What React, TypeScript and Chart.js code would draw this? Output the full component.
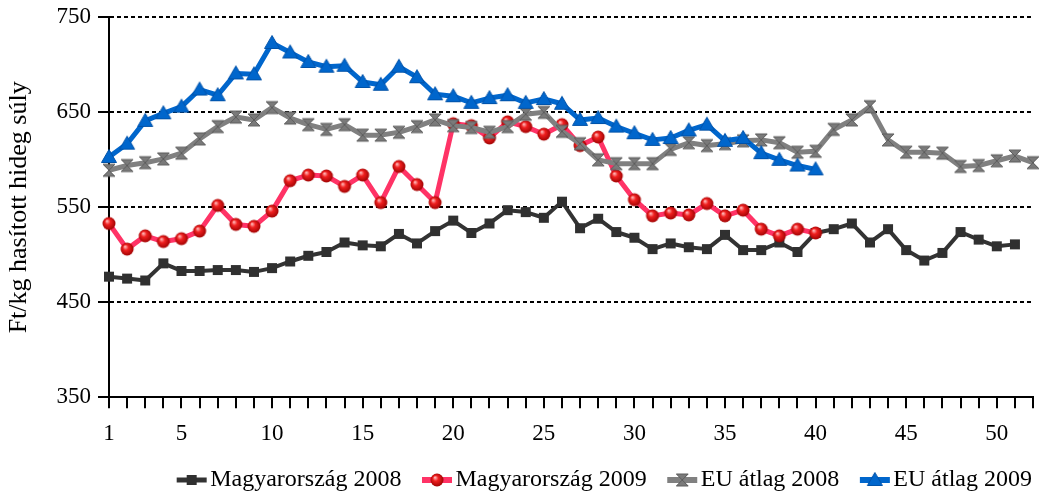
import React, { useEffect, useRef } from 'react';
import { Chart, registerables } from 'chart.js';

Chart.register(...registerables);

const weeks = [
  '1', '2', '3', '4', '5', '6', '7', '8', '9', '10',
  '11', '12', '13', '14', '15', '16', '17', '18', '19', '20',
  '21', '22', '23', '24', '25', '26', '27', '28', '29', '30',
  '31', '32', '33', '34', '35', '36', '37', '38', '39', '40',
  '41', '42', '43', '44', '45', '46', '47', '48', '49', '50',
  '51', '52',
];

const shownWeekLabels = ['1', '5', '10', '15', '20', '25', '30', '35', '40', '45', '50'];

const hu2008 = [
  477, 475, 473, 491, 483, 483, 484, 484, 482, 486,
  493, 499, 503, 513, 510, 509, 522, 512, 525, 536,
  523, 533, 547, 545, 539, 556, 528, 538, 524, 518,
  506, 512, 508, 506, 521, 505, 505, 513, 503, 523,
  527, 533, 513, 527, 505, 494, 502, 524, 516, 509,
  511,
];

const hu2009 = [
  533, 506, 520, 514, 517, 525, 552, 532, 530, 546,
  578, 584, 583, 572, 584, 555, 593, 574, 555, 638,
  636, 623, 640, 635, 627, 637, 615, 624, 583, 558,
  541, 544, 542, 554, 541, 547, 527, 520, 527, 523,
];

const eu2008 = [
  589, 594, 597, 601, 607, 622, 635, 645, 642, 655,
  644, 637, 632, 637, 626, 626, 629, 635, 642, 636,
  634, 629, 635, 648, 650, 630, 617, 600, 596, 596,
  596, 611, 618, 615, 617, 620, 621, 618, 608, 609,
  632, 642, 656, 621, 608, 608, 607, 593, 594, 599,
  604, 597,
];

const eu2009 = [
  603, 617, 641, 649, 656, 674, 668, 691, 690, 723,
  713, 703, 698, 699, 682, 679, 698, 687, 669, 667,
  660, 665, 668, 660, 664, 659, 642, 644, 635, 628,
  621, 623, 631, 637, 620, 623, 607, 600, 594, 590,
];

const seriesNames = ['Magyarország 2008', 'Magyarország 2009', 'EU átlag 2008', 'EU átlag 2009'];
const yTicks = [350, 450, 550, 650, 750];
const yTitle = 'Ft/kg hasított hideg súly';

const BLACK = '#333333';
const RED = '#ff3366';
const GRAY = '#808080';
const BLUE = '#0066cc';
const FONT = "'Liberation Serif', 'Times New Roman', serif";

type Kind = 'square' | 'sphere' | 'hourglass' | 'triangle';

function drawMarker(ctx: CanvasRenderingContext2D, kind: Kind, cx: number, cy: number) {
  if (kind === 'square') {
    ctx.fillStyle = '#303030';
    ctx.fillRect(cx - 5, cy - 5, 10, 10);
  } else if (kind === 'sphere') {
    const g = ctx.createRadialGradient(cx - 2, cy - 2.5, 0.5, cx, cy, 7);
    g.addColorStop(0, '#ffb0b0');
    g.addColorStop(0.35, '#f02020');
    g.addColorStop(1, '#9a0000');
    ctx.fillStyle = g;
    ctx.beginPath();
    ctx.arc(cx, cy, 6.5, 0, Math.PI * 2);
    ctx.fill();
  } else if (kind === 'hourglass') {
    ctx.fillStyle = '#7a7a7a';
    ctx.strokeStyle = '#5c5c5c';
    ctx.lineWidth = 1;
    ctx.beginPath();
    ctx.moveTo(cx - 6, cy - 6);
    ctx.lineTo(cx + 6, cy - 6);
    ctx.lineTo(cx, cy);
    ctx.lineTo(cx + 6, cy + 6);
    ctx.lineTo(cx - 6, cy + 6);
    ctx.lineTo(cx, cy);
    ctx.closePath();
    ctx.fill();
    ctx.stroke();
  } else {
    ctx.fillStyle = '#0066cc';
    ctx.strokeStyle = '#0052a8';
    ctx.lineWidth = 1;
    ctx.beginPath();
    ctx.moveTo(cx, cy - 7.5);
    ctx.lineTo(cx + 7.5, cy + 5.5);
    ctx.lineTo(cx - 7.5, cy + 5.5);
    ctx.closePath();
    ctx.fill();
    ctx.stroke();
  }
}

function makeMarker(kind: Kind): HTMLCanvasElement {
  const c = document.createElement('canvas');
  c.width = 18;
  c.height = 18;
  const ctx = c.getContext('2d')!;
  drawMarker(ctx, kind, 9, 9);
  return c;
}

// Legend icon: a short line with the marker in its middle, placed in the
// right part of a wider transparent canvas so it sits close to its text.
function makeLegendIcon(kind: Kind, color: string, lw: number): HTMLCanvasElement {
  const c = document.createElement('canvas');
  c.width = 52;
  c.height = 18;
  const ctx = c.getContext('2d')!;
  ctx.strokeStyle = color;
  ctx.lineWidth = lw;
  ctx.beginPath();
  ctx.moveTo(21, 9);
  ctx.lineTo(51, 9);
  ctx.stroke();
  drawMarker(ctx, kind, 36, 9);
  return c;
}

export default function App() {
  const ref = useRef<HTMLCanvasElement>(null);

  useEffect(() => {
    if (!ref.current) return;
    const kinds: Kind[] = ['square', 'sphere', 'hourglass', 'triangle'];
    const colors = [BLACK, RED, GRAY, BLUE];
    const widths = [4, 5, 5, 5];
    const values = [hu2008, hu2009, eu2008, eu2009];
    const orders = [4, 3, 2, 1];
    const markers = kinds.map((k) => makeMarker(k));
    const icons = kinds.map((k, i) => makeLegendIcon(k, colors[i], widths[i] + 1));

    const datasets = values.map((v, i) => ({
      label: seriesNames[i],
      data: v,
      borderColor: colors[i],
      backgroundColor: colors[i],
      borderWidth: widths[i],
      pointStyle: markers[i] as any,
      pointRadius: 5,
      pointHoverRadius: 5,
      tension: 0,
      clip: false as any,
      order: orders[i],
      borderJoinStyle: 'round' as const,
    }));

    const tickFont = { family: FONT, size: 23, lineHeight: 0.9 };

    const chart = new Chart(ref.current, {
      type: 'line',
      data: { labels: weeks, datasets },
      options: {
        animation: false,
        responsive: true,
        maintainAspectRatio: false,
        layout: { padding: { left: 0, right: 7, top: 16, bottom: -7 } },
        plugins: {
          tooltip: { enabled: false },
          legend: {
            display: true,
            position: 'bottom',
            align: 'end',
            labels: {
              usePointStyle: true,
              pointStyleWidth: 33,
              padding: 9,
              color: '#000',
              font: { family: FONT, size: 24 },
              generateLabels: () =>
                seriesNames.map((name, i) => ({
                  text: name,
                  fillStyle: colors[i],
                  strokeStyle: colors[i],
                  lineWidth: 0,
                  pointStyle: icons[i] as any,
                  hidden: false,
                  datasetIndex: i,
                  fontColor: '#000',
                })),
            },
          },
        },
        scales: {
          x: {
            type: 'category',
            offset: false,
            grid: {
              display: true,
              offset: false,
              drawOnChartArea: false,
              drawTicks: true,
              tickLength: 11,
              tickWidth: 2,
              tickColor: '#000',
              color: '#000',
              lineWidth: 2,
            },
            border: { display: true, color: '#000', width: 2 },
            ticks: {
              autoSkip: false,
              maxRotation: 0,
              minRotation: 0,
              padding: 15,
              color: '#000',
              font: tickFont,
              callback: (_v: any, idx: number) =>
                shownWeekLabels.includes(weeks[idx]) ? weeks[idx] : '',
            },
          },
          y: {
            min: yTicks[0],
            max: yTicks[yTicks.length - 1],
            afterBuildTicks: (s: any) => {
              s.ticks = yTicks.map((v) => ({ value: v }));
            },
            ticks: { padding: 7, color: '#000', font: tickFont },
            grid: {
              color: (ctx: any) => (ctx.tick && ctx.tick.value === 350 ? 'rgba(0,0,0,0)' : '#000'),
              lineWidth: 2,
              tickLength: 11,
              tickWidth: 2,
              tickColor: '#000',
            },
            border: { display: true, color: '#000', width: 2, dash: [4, 3] },
            title: {
              display: true,
              text: yTitle,
              color: '#000',
              font: { family: FONT, size: 26 },
              padding: { top: 4, bottom: 0 },
            },
            afterFit: (s: any) => {
              s.width = 109;
            },
          },
        },
      },
    });
    return () => chart.destroy();
  }, []);

  return (
    <div style={{ position: 'fixed', left: 0, top: 0, width: 1048, height: 495, background: '#fff' }}>
      <canvas ref={ref} />
    </div>
  );
}
